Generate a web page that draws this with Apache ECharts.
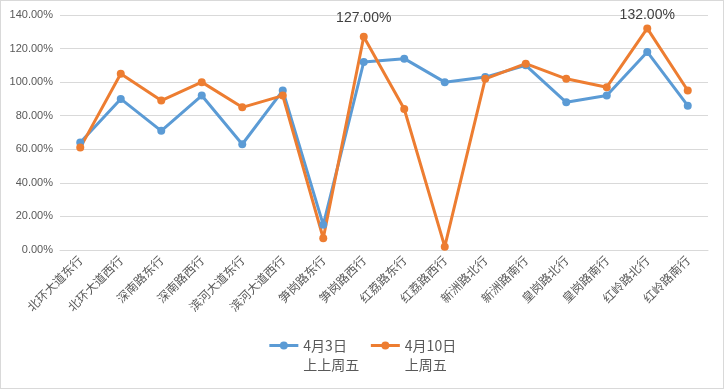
<!DOCTYPE html>
<html>
<head>
<meta charset="utf-8">
<script src="https://cdn.jsdelivr.net/npm/echarts@6/dist/echarts.min.js"></script>
<style>
html,body{margin:0;padding:0;background:#fff;}
#chart{position:absolute;left:0;top:0;width:724px;height:389px;}
#frame{position:absolute;left:0;top:0;width:724px;height:389px;box-sizing:border-box;border:1px solid #D9D9D9;pointer-events:none;}
</style>
</head>
<body>
<div id="chart"></div>
<div id="frame"></div>
<script>
const categories = ['北环大道东行','北环大道西行','深南路东行','深南路西行','滨河大道东行','滨河大道西行','笋岗路东行','笋岗路西行','红荔路东行','红荔路西行','新洲路北行','新洲路南行','皇岗路北行','皇岗路南行','红岭路北行','红岭路南行'];
const seriesNames = ['4月3日\n上上周五','4月10日\n上周五'];
const blueValues = [64, 90, 71, 92, 63, 95, 15, 112, 114, 100, 103, 110, 88, 92, 118, 86];
const orangeValues = [61, 105, 89, 100, 85, 92, 7, 127, 84, 2, 102, 111, 102, 97, 132, 95];
const labeledOrange = [7, 14];
const labelDistance = {7: 8, 14: 2};
const yTicks = {min: 0, max: 140, interval: 20};

const chart = echarts.init(document.getElementById('chart'), null, {renderer: 'canvas'});
const font = '"Liberation Sans", Arial, sans-serif';
const cjk = '"Noto Sans CJK SC", sans-serif';

const orangeData = orangeValues.map((v, i) => labeledOrange.includes(i) ? {
  value: v,
  label: {show: true, position: 'top', distance: labelDistance[i], formatter: p => p.value.toFixed(2) + '%',
    color: '#404040', fontSize: 14, fontFamily: font}
} : v);

chart.setOption({
  animation: false,
  grid: {left: 60, right: 16, top: 15, bottom: 139},
  xAxis: {
    type: 'category', data: categories, boundaryGap: true,
    axisLine: {lineStyle: {color: '#D9D9D9'}},
    axisTick: {show: false},
    axisLabel: {rotate: 45, color: '#595959', fontSize: 12, fontFamily: cjk, interval: 0, margin: 8}
  },
  yAxis: {
    type: 'value', min: yTicks.min, max: yTicks.max, interval: yTicks.interval,
    axisLine: {show: false}, axisTick: {show: false},
    splitLine: {lineStyle: {color: '#D9D9D9'}},
    axisLabel: {formatter: v => v.toFixed(2) + '%', color: '#595959', fontSize: 11, fontFamily: font, margin: 7}
  },
  legend: {
    bottom: 10, left: 'center',
    itemWidth: 29, itemHeight: 10, itemGap: 10,
    data: seriesNames,
    lineStyle: {width: 3},
    formatter: name => '\n' + name,
    textStyle: {color: '#595959', fontSize: 14, fontFamily: cjk, lineHeight: 19}
  },
  series: [
    {name: seriesNames[0], type: 'line', data: blueValues, symbol: 'circle', symbolSize: 8,
     lineStyle: {width: 3, color: '#5B9BD5'}, itemStyle: {color: '#5B9BD5'}},
    {name: seriesNames[1], type: 'line', data: orangeData, symbol: 'circle', symbolSize: 8,
     lineStyle: {width: 3, color: '#ED7D31'}, itemStyle: {color: '#ED7D31'}}
  ]
});
</script>
</body>
</html>
